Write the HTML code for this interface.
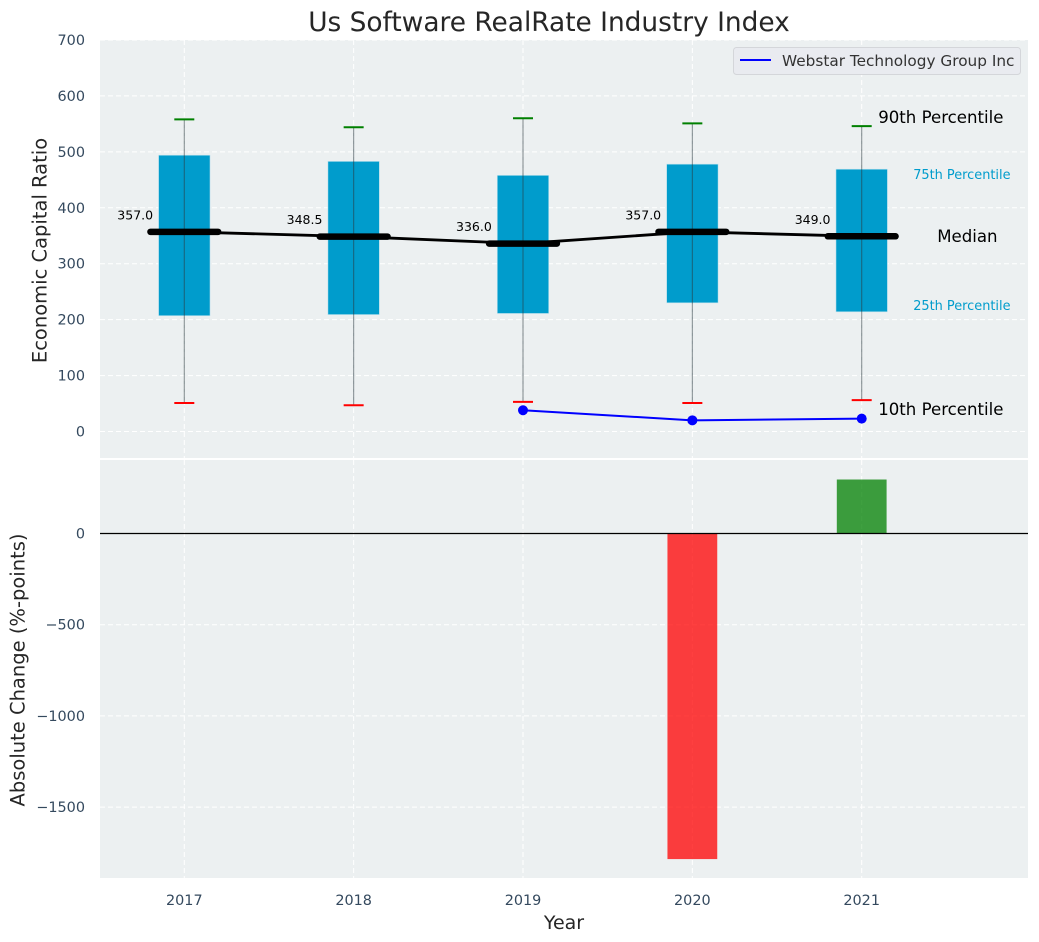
<!DOCTYPE html>
<html>
<head>
<meta charset="utf-8">
<title>Us Software RealRate Industry Index</title>
<style>
html,body{margin:0;padding:0;background:#fff;}
svg{display:block;font-family:"DejaVu Sans","Liberation Sans",sans-serif;}
</style>
</head>
<body>
<svg id="chart" xmlns="http://www.w3.org/2000/svg" width="1039" height="942" viewBox="0 0 1039 942"></svg>
<script>
const years = [2017, 2018, 2019, 2020, 2021];
const p90 = [558, 544, 560, 551, 546];
const p75 = [494, 483, 458, 478, 469];
const medians = [357, 348.5, 336, 357, 349];
const p25 = [207, 209, 211, 230, 214];
const p10 = [51, 47, 53, 51, 56];
const companyYears = [2019, 2020, 2021];
const companyValues = [38, 20, 23];
const changeYears = [2020, 2021];
const changeValues = [-1785, 296];
const topTicks = [0, 100, 200, 300, 400, 500, 600, 700];
const bottomTicks = [0, -500, -1000, -1500];

const svg = document.getElementById('chart');
const NS = 'http://www.w3.org/2000/svg';
const yearPx = 169.35;
const x = function (year) { return 184.3 + (year - 2017) * yearPx; };
const yTop = function (v) { return 431.5 - v * 0.5593; };
const yBottom = function (v) { return 533.5 - v * 0.1824; };

function make(tag, attrs, text) {
  const el = document.createElementNS(NS, tag);
  Object.keys(attrs).forEach(function (k) { el.setAttribute(k, attrs[k]); });
  if (text !== undefined) el.textContent = text;
  svg.appendChild(el);
  return el;
}
function fmtTick(v) { return v < 0 ? '\u2212' + Math.abs(v) : String(v); }

let el;
el = make('text', {x: 549, y: 31, 'text-anchor': 'middle', 'font-size': 26.4, fill: '#262626'}, 'Us Software RealRate Industry Index');



el = make('rect', {x: 100, y: 40, width: 928, height: 418, fill: '#ecf0f1'});


el = make('rect', {x: 100, y: 460, width: 928, height: 418, fill: '#ecf0f1'});



const gridStyle = {stroke: '#ffffff', 'stroke-width': 1, 'stroke-dasharray': '5,3'};
topTicks.forEach(function (t) {
  const g = make('line', Object.assign({x1: 100, x2: 1028, y1: yTop(t), y2: yTop(t)}, gridStyle));
  
  
  const l = make('text', {x: 85, y: yTop(t) + 5, 'text-anchor': 'end', 'font-size': 14.4, fill: '#34495e'}, fmtTick(t));
  
  
});
bottomTicks.forEach(function (t) {
  const g = make('line', Object.assign({x1: 100, x2: 1028, y1: yBottom(t), y2: yBottom(t)}, gridStyle));
  
  
  const l = make('text', {x: 85, y: yBottom(t) + 5, 'text-anchor': 'end', 'font-size': 14.4, fill: '#34495e'}, fmtTick(t));
  
  
});
years.forEach(function (yr) {
  const g1 = make('line', Object.assign({x1: x(yr), x2: x(yr), y1: 40, y2: 458}, gridStyle));
  
  
  const g2 = make('line', Object.assign({x1: x(yr), x2: x(yr), y1: 460, y2: 878}, gridStyle));
  
  
  const l = make('text', {x: x(yr), y: 905, 'text-anchor': 'middle', 'font-size': 14.4, fill: '#34495e'}, String(yr));
  
  
});

// Percentile boxes
years.forEach(function (yr, i) {
  const b = make('rect', {x: x(yr) - 0.152 * yearPx, y: yTop(p75[i]), width: 0.304 * yearPx, height: yTop(p25[i]) - yTop(p75[i]), fill: '#009ccc', stroke: '#c4e4ee', 'stroke-width': 0.6});
  
  
});
// Whiskers
years.forEach(function (yr, i) {
  const w = make('line', {x1: x(yr), x2: x(yr), y1: yTop(p90[i]), y2: yTop(p10[i]), stroke: '#2a3a40', 'stroke-opacity': 0.55, 'stroke-width': 1.1});
  
  
  const c1 = make('line', {x1: x(yr) - 10, x2: x(yr) + 10, y1: yTop(p90[i]), y2: yTop(p90[i]), stroke: '#008000', 'stroke-width': 2});
  
  
  const c2 = make('line', {x1: x(yr) - 10, x2: x(yr) + 10, y1: yTop(p10[i]), y2: yTop(p10[i]), stroke: '#ff0000', 'stroke-width': 2});
  
  
});
// Median trend
const medianLine = make('polyline', {points: years.map(function (yr, i) { return x(yr) + ',' + yTop(medians[i]); }).join(' '), fill: 'none', stroke: '#000000', 'stroke-width': 2.8});


years.forEach(function (yr, i) {
  const m = make('line', {x1: x(yr) - 0.2 * yearPx, x2: x(yr) + 0.2 * yearPx, y1: yTop(medians[i]), y2: yTop(medians[i]), stroke: '#000000', 'stroke-width': 6.5, 'stroke-linecap': 'round'});
  
  
  const t = make('text', {x: x(yr) - 67, y: yTop(medians[i]) - 12.5, 'font-size': 12.5, fill: '#000000'}, medians[i].toFixed(1));
  
  
});
// Company series
const companyLine = make('polyline', {points: companyYears.map(function (yr, i) { return x(yr) + ',' + yTop(companyValues[i]); }).join(' '), fill: 'none', stroke: '#0000ff', 'stroke-width': 2});


companyYears.forEach(function (yr, i) {
  const p = make('circle', {cx: x(yr), cy: yTop(companyValues[i]), r: 5, fill: '#0000ff'});
  
  
});
// Percentile annotations
const last = years.length - 1;
const lastX = x(years[last]);
el = make('text', {x: lastX + 16.5, y: yTop(p90[last]) - 3, 'font-size': 16.6, fill: '#000000'}, '90th Percentile');


el = make('text', {x: lastX + 51.5, y: yTop(p75[last]) + 10, 'font-size': 12.9, fill: '#009ccc'}, '75th Percentile');


el = make('text', {x: lastX + 75.5, y: yTop(medians[last]) + 5.5, 'font-size': 16.6, fill: '#000000'}, 'Median');


el = make('text', {x: lastX + 51.5, y: yTop(p25[last]) - 2, 'font-size': 12.9, fill: '#009ccc'}, '25th Percentile');


el = make('text', {x: lastX + 16.5, y: yTop(p10[last]) + 15, 'font-size': 16.6, fill: '#000000'}, '10th Percentile');



// Legend
el = make('rect', {x: 733.5, y: 47.5, width: 287, height: 27, rx: 3, fill: '#e9ebf0', stroke: '#d4d6da', 'stroke-width': 1});


el = make('line', {x1: 740, x2: 771, y1: 60, y2: 60, stroke: '#0000ff', 'stroke-width': 2});


el = make('text', {x: 782, y: 66, 'font-size': 15.3, fill: '#333333'}, 'Webstar Technology Group Inc');



// Change bars
changeYears.forEach(function (yr, i) {
  const v = changeValues[i];
  const top = Math.min(yBottom(0), yBottom(v));
  const h = Math.abs(yBottom(v) - yBottom(0));
  const r = make('rect', {x: x(yr) - 0.147 * yearPx, y: top, width: 0.294 * yearPx, height: h, fill: v < 0 ? '#ff0000' : '#008000', 'fill-opacity': 0.75});
  
  
});
el = make('line', {x1: 100, x2: 1028, y1: yBottom(0), y2: yBottom(0), stroke: '#000000', 'stroke-width': 1.2});



// Axis titles
el = make('text', {x: 564, y: 929, 'text-anchor': 'middle', 'font-size': 19, fill: '#262626'}, 'Year');


el = make('text', {transform: 'translate(46.5,250.5) rotate(-90)', 'text-anchor': 'middle', 'font-size': 19.5, fill: '#262626'}, 'Economic Capital Ratio');


el = make('text', {transform: 'translate(24.5,670) rotate(-90)', 'text-anchor': 'middle', 'font-size': 19.5, fill: '#262626'}, 'Absolute Change (%-points)');


</script>
</body>
</html>
